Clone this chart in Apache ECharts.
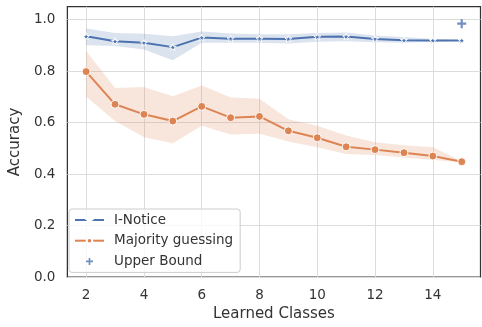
<!DOCTYPE html>
<html><head><meta charset="utf-8">
<script src="https://cdn.jsdelivr.net/npm/echarts@6/dist/echarts.min.js"></script>
<style>html,body{margin:0;padding:0;background:#fff}#c{width:482px;height:327px}</style>
</head><body><div id="c"></div>
<script>
var classes = [2,3,4,5,6,7,8,9,10,11,12,13,14,15];
var noticeMean = [0.935,0.916,0.910,0.893,0.930,0.926,0.926,0.925,0.933,0.934,0.925,0.920,0.919,0.919];
var noticeLow  = [0.900,0.897,0.884,0.842,0.910,0.910,0.910,0.907,0.914,0.916,0.912,0.910,0.914,0.918];
var noticeHigh = [0.965,0.948,0.945,0.935,0.954,0.946,0.943,0.943,0.948,0.950,0.938,0.932,0.925,0.920];
var majMean = [0.798,0.671,0.632,0.606,0.663,0.619,0.624,0.568,0.541,0.506,0.495,0.483,0.470,0.448];
var majLow  = [0.700,0.606,0.543,0.520,0.588,0.554,0.557,0.527,0.504,0.478,0.474,0.464,0.455,0.446];
var majHigh = [0.878,0.734,0.738,0.702,0.744,0.697,0.693,0.613,0.588,0.550,0.524,0.512,0.504,0.450];
var upperBound = [[15, 0.984]];
var xTicks = [2,4,6,8,10,12,14];
var yTicks = [0,0.2,0.4,0.6,0.8,1.0];

var BLUE = '#4c72b0', ORANGE = '#dd8452';
var STAR = 'path://M50,0 L61.8,35.1 L98.9,35.1 L68.9,56.9 L80.3,92 L50,70.2 L19.7,92 L31.1,56.9 L1.1,35.1 L38.2,35.1 Z';
var PLUS = 'path://M0,38 H100 V62 H0 Z M38,0 H62 V100 H38 Z';
var FONT = 'DejaVu Sans';

function band(name, lo, hi, color) {
  return {
    type: 'custom', name: name, silent: true, z: 1,
    data: classes.map(function (x, i) { return [x, lo[i], hi[i]]; }),
    encode: { x: 0, y: [1, 2] },
    renderItem: function (params, api) {
      if (params.dataIndex !== 0) return null;
      var pts = [];
      for (var i = 0; i < classes.length; i++) pts.push(api.coord([classes[i], hi[i]]));
      for (var j = classes.length - 1; j >= 0; j--) pts.push(api.coord([classes[j], lo[j]]));
      return { type: 'polygon', shape: { points: pts }, style: { fill: color } };
    }
  };
}

var chart = echarts.init(document.getElementById('c'), null, { renderer: 'canvas' });
chart.setOption({
  animation: false,
  backgroundColor: '#fff',
  textStyle: { fontFamily: FONT },
  grid: { left: 62.7, right: 1.5, top: 6.7, bottom: 46, show: true, borderColor: '#333', borderWidth: 1.25, backgroundColor: '#fff', containLabel: false },
  xAxis: {
    type: 'value', min: 1.35, max: 15.65,
    name: 'Learned Classes', nameLocation: 'middle', nameGap: 29,
    nameTextStyle: { fontSize: 15, color: '#333', fontFamily: FONT },
    axisLine: { show: false },
    axisTick: { show: false, customValues: xTicks },
    axisLabel: { customValues: xTicks, fontSize: 13.5, color: '#333', margin: 11, fontFamily: FONT },
    splitLine: { show: true, lineStyle: { color: '#dcdcdc', width: 1 } }
  },
  yAxis: {
    type: 'value', min: 0, max: 1.05,
    name: 'Accuracy', nameLocation: 'middle', nameGap: 39,
    nameTextStyle: { fontSize: 15, color: '#333', fontFamily: FONT },
    axisLine: { show: false },
    axisTick: { show: false, customValues: yTicks },
    axisLabel: { customValues: yTicks, fontSize: 13.5, color: '#333', margin: 12, fontFamily: FONT,
      formatter: function (v) { return v.toFixed(1); } },
    splitLine: { show: true, lineStyle: { color: '#dcdcdc', width: 1 } }
  },
  legend: {
    orient: 'vertical', left: 69, top: 209,
    padding: [4, 7, 4, 5], itemGap: 6.7, itemWidth: 29, itemHeight: 7,
    backgroundColor: 'rgba(255,255,255,0.8)', borderColor: '#cccccc', borderWidth: 1, borderRadius: 3,
    textStyle: { fontSize: 13.5, color: '#333', fontFamily: FONT, padding: [0, 0, 0, 5], lineHeight: 14 },
    data: ['I-Notice', 'Majority guessing', 'Upper Bound']
  },
  series: [
    band('noticeBand', noticeLow, noticeHigh, 'rgba(76,114,176,0.2)'),
    band('majBand', majLow, majHigh, 'rgba(221,132,82,0.2)'),
    {
      type: 'line', name: 'I-Notice', z: 3,
      data: classes.map(function (x, i) { return [x, noticeMean[i]]; }),
      lineStyle: { color: BLUE, width: 2 },
      itemStyle: { color: BLUE, borderColor: '#fff', borderWidth: 1 },
      symbol: STAR, symbolSize: 7, showAllSymbol: true
    },
    {
      type: 'line', name: 'Majority guessing', z: 3,
      data: classes.map(function (x, i) { return [x, majMean[i]]; }),
      lineStyle: { color: ORANGE, width: 2 },
      itemStyle: { color: ORANGE, borderColor: '#fff', borderWidth: 1 },
      symbol: 'circle', symbolSize: 8, showAllSymbol: true
    },
    {
      type: 'scatter', name: 'Upper Bound', z: 4,
      data: upperBound,
      symbol: PLUS, symbolSize: 9,
      itemStyle: { color: BLUE }
    }
  ]
});
</script></body></html>
